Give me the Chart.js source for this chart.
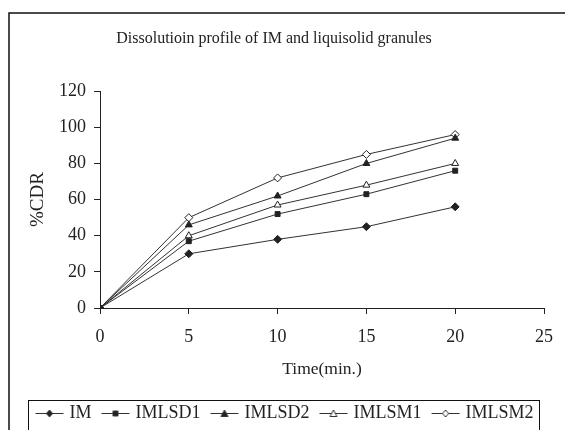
<!DOCTYPE html>
<html>
<head>
<meta charset="utf-8">
<script src="https://cdn.jsdelivr.net/npm/chart.js@4"></script>
<style>
  html, body { margin: 0; padding: 0; background: #fff; }
  #wrap { width: 565px; height: 430px; position: relative; }
</style>
</head>
<body>
<div id="wrap"><canvas id="chart" width="565" height="430"></canvas></div>
<script>
// data
const times = [0, 5, 10, 15, 20];
const seriesNames = ["IM", "IMLSD1", "IMLSD2", "IMLSM1", "IMLSM2"];
const imValues     = [0, 30, 38, 45, 56];
const imlsd1Values = [0, 37, 52, 63, 76];
const imlsd2Values = [0, 46, 62, 80, 94];
const imlsm1Values = [0, 40, 57, 68, 80];
const imlsm2Values = [0, 50, 72, 85, 96];
const yTicks = [0, 20, 40, 60, 80, 100, 120];
const xTicks = [0, 5, 10, 15, 20, 25];

const ink = '#222';
const lineColor = '#333';
const serif = "'Liberation Serif', 'DejaVu Serif', serif";

// marker look for each series: [pointStyle, filled]
const markers = [
    ['rectRot', true],
    ['rect', true],
    ['triangle', true],
    ['triangle', false],
    ['rectRot', false]
];
const allValues = [imValues, imlsd1Values, imlsd2Values, imlsm1Values, imlsm2Values];

function toXY(values) {
    return values.map((v, i) => ({ x: times[i], y: v }));
}

// small canvas with line + marker, used as the legend symbol
function legendSymbol(style, filled) {
    const c = document.createElement('canvas');
    c.width = 30; c.height = 12;
    const g = c.getContext('2d');
    g.strokeStyle = lineColor;
    g.lineWidth = 1;
    g.beginPath(); g.moveTo(1, 6.5); g.lineTo(29, 6.5); g.stroke();
    g.fillStyle = filled ? ink : '#fff';
    g.beginPath();
    if (style === 'rectRot') {
        g.moveTo(15, 3); g.lineTo(18, 6.5); g.lineTo(15, 10); g.lineTo(12, 6.5); g.closePath();
    } else if (style === 'rect') {
        g.rect(12.5, 4, 5, 5);
    } else {
        g.moveTo(15, 3); g.lineTo(18.5, 9.5); g.lineTo(11.5, 9.5); g.closePath();
    }
    g.fill(); g.stroke();
    return c;
}

const datasets = seriesNames.map((name, i) => ({
    label: name,
    data: toXY(allValues[i]),
    borderColor: lineColor,
    borderWidth: 1,
    pointStyle: markers[i][0],
    pointRadius: markers[i][0] === 'rect' ? 3.5 : 4,
    pointBackgroundColor: markers[i][1] ? ink : '#fff',
    pointBorderColor: ink,
    pointBorderWidth: 1,
    tension: 0
}));

// outer frame and the box round the legend
const framePlugin = {
    id: 'frame',
    afterLayout(chart) {
        // legend in the original sits a little right of the page centre
        chart.legend.left += 12;
        chart.legend.right += 12;
        chart.legend.top += 2;
        chart.legend.bottom += 2;
    },
    beforeDraw(chart) {
        const ctx = chart.ctx;
        ctx.save();
        ctx.strokeStyle = '#111';
        ctx.lineWidth = 1.5;
        ctx.strokeRect(9, 13, 600, 500);
        ctx.restore();
    },
    afterDraw(chart) {
        const lg = chart.legend;
        if (!lg || !lg.legendHitBoxes.length) return;
        const boxes = lg.legendHitBoxes;
        const left = Math.min(...boxes.map(b => b.left)) - 10;
        const right = Math.max(...boxes.map(b => b.left + b.width)) + 6;
        const ctx = chart.ctx;
        ctx.save();
        ctx.strokeStyle = '#111';
        ctx.lineWidth = 1;
        ctx.strokeRect(Math.round(left) + 0.5, 400.5, Math.round(right - left), 60);
        ctx.restore();
    }
};

new Chart(document.getElementById('chart'), {
    type: 'line',
    data: { datasets: datasets },
    plugins: [framePlugin],
    options: {
        responsive: false,
        animation: false,
        layout: { padding: { left: 0, right: 17, top: 0, bottom: 0 } },
        scales: {
            x: {
                type: 'linear',
                min: 0, max: 25,
                afterFit(scale) { scale.height = 81; },
                afterBuildTicks(scale) { scale.ticks = xTicks.map(v => ({ value: v })); },
                grid: { display: true, drawOnChartArea: false, drawTicks: true, tickLength: 6, tickColor: ink },
                border: { color: ink, width: 1 },
                ticks: { color: ink, font: { family: serif, size: 18 }, padding: 12, maxRotation: 0 },
                title: { display: true, text: 'Time(min.)', color: ink, font: { family: serif, size: 17.5 }, padding: { top: 0, bottom: 9.5 } }
            },
            y: {
                min: 0, max: 120,
                afterFit(scale) { scale.width = 100; },
                afterBuildTicks(scale) { scale.ticks = yTicks.map(v => ({ value: v })); },
                grid: { display: true, drawOnChartArea: false, drawTicks: true, tickLength: 6, tickColor: ink },
                border: { color: ink, width: 1 },
                ticks: { color: ink, font: { family: serif, size: 18 }, padding: 8 },
                title: { display: true, text: '%CDR', color: ink, font: { family: serif, size: 19 }, padding: { top: 27, bottom: 0 } }
            }
        },
        plugins: {
            title: {
                display: true,
                text: 'Dissolutioin profile of IM and liquisolid granules',
                color: ink,
                font: { family: serif, size: 16, weight: 'normal' },
                padding: { top: 29, bottom: 43 }
            },
            legend: {
                position: 'bottom',
                labels: {
                    color: ink,
                    font: { family: serif, size: 18 },
                    usePointStyle: true,
                    pointStyleWidth: 22,
                    padding: 13,
                    generateLabels(chart) {
                        return chart.data.datasets.map((ds, i) => ({
                            text: ds.label,
                            pointStyle: legendSymbol(markers[i][0], markers[i][1]),
                            fillStyle: '#fff',
                            strokeStyle: lineColor,
                            lineWidth: 0,
                            fontColor: ink,
                            hidden: false,
                            datasetIndex: i
                        }));
                    }
                }
            },
            tooltip: { enabled: false }
        }
    }
});
</script>
</body>
</html>
